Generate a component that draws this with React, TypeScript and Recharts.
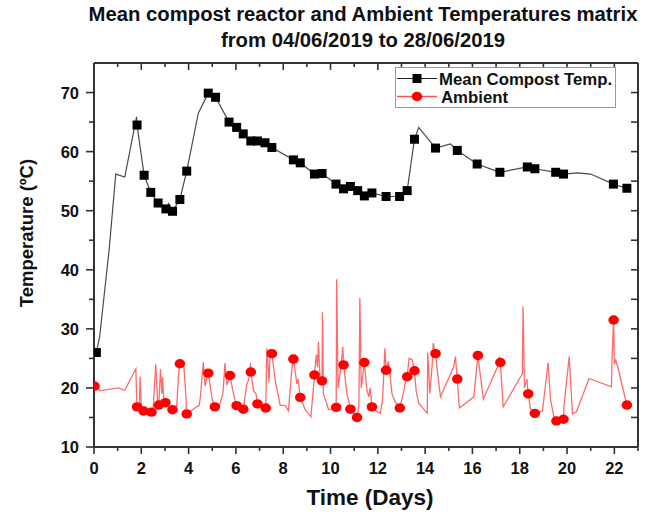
import React from 'react';
import { ComposedChart, Line, Scatter, XAxis, YAxis, Legend } from 'recharts';

// ---- Data ----
const compostDays = [0.1, 0.24, 0.64, 0.92, 1.3, 1.8, 1.82, 2.12, 2.4, 2.71, 3.04, 3.15, 3.32, 3.63, 3.92, 4.41, 4.83, 5.14, 5.71, 6.03, 6.31, 6.63, 6.91, 7.23, 7.52, 8.43, 8.72, 9.32, 9.64, 10.23, 10.55, 10.84, 11.15, 11.43, 11.75, 12.35, 12.92, 13.24, 13.55, 13.73, 14.44, 15.07, 15.36, 16.2, 17.16, 18.32, 18.64, 19.52, 19.85, 20.44, 21.0, 21.96, 22.53];
const compostTemps = [26.0, 28.7, 43.4, 56.2, 55.7, 65.9, 64.5, 56.0, 53.1, 51.3, 50.3, 51.2, 49.9, 51.9, 56.7, 66.5, 69.9, 69.2, 65.0, 64.1, 63.0, 61.8, 61.8, 61.5, 60.7, 58.6, 58.1, 56.2, 56.3, 54.5, 53.7, 54.1, 53.4, 52.5, 53.0, 52.4, 52.4, 53.4, 62.1, 64.1, 60.6, 61.3, 60.2, 57.9, 56.5, 57.4, 57.1, 56.5, 56.2, 56.4, 56.2, 54.5, 53.8];

const compostMarkerDays = [0.1, 1.82, 2.12, 2.4, 2.71, 3.04, 3.32, 3.63, 3.92, 4.83, 5.14, 5.71, 6.03, 6.31, 6.63, 6.91, 7.23, 7.52, 8.43, 8.72, 9.32, 9.64, 10.23, 10.55, 10.84, 11.15, 11.43, 11.75, 12.35, 12.92, 13.24, 13.55, 14.44, 15.36, 16.2, 17.16, 18.32, 18.64, 19.52, 19.85, 21.96, 22.53];
const compostMarkerTemps = [26.0, 64.5, 56.0, 53.1, 51.3, 50.3, 49.9, 51.9, 56.7, 69.9, 69.2, 65.0, 64.1, 63.0, 61.8, 61.8, 61.5, 60.7, 58.6, 58.1, 56.2, 56.3, 54.5, 53.7, 54.1, 53.4, 52.5, 53.0, 52.4, 52.4, 53.4, 62.1, 60.6, 60.2, 57.9, 56.5, 57.4, 57.1, 56.5, 56.2, 54.5, 53.8];

const ambientDays = [0.02, 0.08, 0.24, 1.02, 1.3, 1.77, 1.8, 1.82, 1.92, 1.95, 2.0, 2.1, 2.43, 2.5, 2.61, 2.7, 2.74, 2.81, 2.87, 2.9, 2.95, 3.02, 3.32, 3.5, 3.58, 3.63, 3.8, 3.88, 3.92, 4.34, 4.45, 4.5, 4.62, 4.7, 4.78, 4.83, 5.0, 5.11, 5.3, 5.45, 5.54, 5.62, 5.75, 5.9, 6.03, 6.31, 6.46, 6.55, 6.62, 6.63, 6.75, 6.85, 6.91, 7.1, 7.26, 7.31, 7.4, 7.45, 7.52, 7.66, 7.75, 7.87, 8.1, 8.22, 8.37, 8.43, 8.58, 8.63, 8.72, 8.93, 9.17, 9.3, 9.32, 9.4, 9.45, 9.49, 9.55, 9.64, 9.66, 9.7, 9.92, 10.1, 10.22, 10.24, 10.26, 10.32, 10.45, 10.52, 10.55, 10.7, 10.84, 11.12, 11.2, 11.24, 11.3, 11.43, 11.54, 11.62, 11.68, 11.75, 11.9, 12.1, 12.2, 12.3, 12.35, 12.45, 12.6, 12.75, 12.93, 13.1, 13.2, 13.24, 13.32, 13.45, 13.55, 13.62, 13.73, 14.09, 14.11, 14.2, 14.3, 14.34, 14.44, 14.5, 14.65, 15.2, 15.28, 15.36, 15.4, 15.45, 16.06, 16.23, 16.46, 17.05, 17.14, 17.18, 17.3, 18.11, 18.14, 18.2, 18.3, 18.36, 18.45, 18.64, 18.96, 19.2, 19.3, 19.45, 19.55, 19.85, 19.87, 20.09, 20.23, 20.4, 20.93, 21.88, 21.9, 21.97, 22.0, 22.06, 22.15, 22.53];
const ambientTemps = [20.3, 21.0, 19.5, 20.0, 19.6, 23.2, 18.5, 16.8, 17.0, 21.9, 16.8, 16.1, 15.9, 16.3, 24.0, 17.0, 17.1, 23.2, 19.0, 21.9, 18.0, 17.5, 16.3, 17.0, 22.5, 24.1, 23.6, 19.0, 15.6, 16.8, 17.0, 18.5, 24.4, 20.3, 22.0, 22.5, 18.0, 16.8, 17.0, 19.0, 24.2, 20.5, 22.1, 19.0, 17.0, 16.4, 20.6, 21.5, 24.2, 22.7, 19.5, 19.0, 17.3, 16.8, 16.6, 26.7, 21.0, 26.5, 25.8, 21.3, 19.5, 17.1, 17.0, 16.1, 23.4, 24.9, 20.7, 21.5, 18.4, 16.3, 15.1, 21.0, 22.2, 25.6, 23.5, 27.8, 22.0, 21.2, 32.8, 19.0, 16.3, 16.5, 16.6, 16.7, 38.4, 20.0, 24.0, 27.0, 23.9, 19.0, 16.4, 15.0, 17.0, 35.2, 20.0, 24.3, 19.6, 18.5, 20.0, 16.8, 16.2, 15.7, 18.0, 26.7, 23.0, 24.5, 19.0, 17.5, 16.6, 19.5, 22.0, 21.9, 25.0, 24.8, 22.9, 19.5, 17.4, 15.7, 26.0, 19.0, 24.0, 27.6, 25.8, 23.5, 18.5, 23.5, 25.3, 21.5, 19.0, 16.6, 18.5, 25.5, 18.1, 23.5, 25.3, 24.3, 16.8, 22.4, 33.8, 20.0, 21.5, 19.0, 16.5, 15.7, 16.1, 24.3, 18.0, 15.0, 14.4, 14.7, 17.0, 25.3, 15.6, 16.0, 21.6, 20.2, 25.0, 31.5, 24.0, 24.7, 23.5, 17.1];

const ambientMarkerDays = [0.02, 1.82, 2.1, 2.43, 2.74, 3.02, 3.32, 3.63, 3.92, 4.83, 5.11, 5.75, 6.03, 6.31, 6.63, 6.91, 7.26, 7.52, 8.43, 8.72, 9.32, 9.64, 10.24, 10.55, 10.84, 11.12, 11.43, 11.75, 12.35, 12.93, 13.24, 13.55, 14.44, 15.36, 16.23, 17.18, 18.36, 18.64, 19.55, 19.85, 21.97, 22.53];
const ambientMarkerTemps = [20.3, 16.8, 16.1, 15.9, 17.1, 17.5, 16.3, 24.1, 15.6, 22.5, 16.8, 22.1, 17.0, 16.4, 22.7, 17.3, 16.6, 25.8, 24.9, 18.4, 22.2, 21.2, 16.7, 23.9, 16.4, 15.0, 24.3, 16.8, 23.0, 16.6, 21.9, 22.9, 25.8, 21.5, 25.5, 24.3, 19.0, 15.7, 14.4, 14.7, 31.5, 17.1];

const xTicks = [0, 1, 2, 3, 4, 5, 6, 7, 8, 9, 10, 11, 12, 13, 14, 15, 16, 17, 18, 19, 20, 21, 22, 23];
const xLabelTicks = [0, 2, 4, 6, 8, 10, 12, 14, 16, 18, 20, 22];
const yTicks = [10, 15, 20, 25, 30, 35, 40, 45, 50, 55, 60, 65, 70];
const yLabelTicks = [10, 20, 30, 40, 50, 60, 70];

const titleLines = ['Mean compost reactor and Ambient Temperatures matrix', 'from 04/06/2019 to 28/06/2019'];
const seriesNames = ['Mean Compost Temp.', 'Ambient'];

const toPoints = (xs: number[], ys: number[]) => xs.map((t, i) => ({ t, v: ys[i] }));

const compostLine = toPoints(compostDays, compostTemps);
const compostMarkers = toPoints(compostMarkerDays, compostMarkerTemps);
const ambientLine = toPoints(ambientDays, ambientTemps);
const ambientMarkers = toPoints(ambientMarkerDays, ambientMarkerTemps);

const FONT = '"Liberation Sans", Arial, Helvetica, sans-serif';
const AXIS_COLOR = '#333';

const BottomTick = (props: any) => {
  const { x, y, payload } = props;
  const major = xLabelTicks.includes(payload.value);
  return (
    <g>
      <line x1={x} x2={x} y1={y} y2={y + (major ? 7 : 4)} stroke={AXIS_COLOR} strokeWidth={1.6} />
      {major && (
        <text x={x} y={y + 27} textAnchor="middle" fontFamily={FONT} fontWeight="bold" fontSize={16.5} fill="#111">
          {payload.value}
        </text>
      )}
    </g>
  );
};

const TopTick = (props: any) => {
  const { x, y, payload } = props;
  const major = xLabelTicks.includes(payload.value);
  return <line x1={x} x2={x} y1={y} y2={y + (major ? 7 : 4)} stroke={AXIS_COLOR} strokeWidth={1.6} />;
};

const LeftTick = (props: any) => {
  const { x, y, payload } = props;
  const major = yLabelTicks.includes(payload.value);
  return (
    <g>
      <line x1={x - (major ? 8 : 5)} x2={x} y1={y} y2={y} stroke={AXIS_COLOR} strokeWidth={1.6} />
      {major && (
        <text x={x - 15} y={y + 6} textAnchor="end" fontFamily={FONT} fontWeight="bold" fontSize={16.5} fill="#111">
          {payload.value}
        </text>
      )}
    </g>
  );
};

const RightTick = (props: any) => {
  const { x, y } = props;
  return <line x1={x - 7} x2={x} y1={y} y2={y} stroke={AXIS_COLOR} strokeWidth={1.6} />;
};

const SquareMarker = (props: any) => {
  const { cx, cy } = props;
  if (cx == null || cy == null) return null;
  return <rect x={cx - 4.5} y={cy - 4.5} width={9} height={9} fill="#000" />;
};

const CircleMarker = (props: any) => {
  const { cx, cy } = props;
  if (cx == null || cy == null) return null;
  return <ellipse cx={cx} cy={cy} rx={5.3} ry={4.7} fill="#ff0000" />;
};

const LegendBox = () => (
  <div style={{ width: 221, height: 41, border: '1.5px solid #999', background: '#fff', boxSizing: 'border-box' }}>
    <svg width={218} height={38} style={{ display: 'block' }}>
      <line x1={1} x2={41} y1={10.5} y2={10.5} stroke="#222" strokeWidth={1.2} />
      <rect x={16.5} y={6} width={9} height={9} fill="#000" />
      <text x={43} y={16.5} fontFamily={FONT} fontWeight="bold" fontSize={16.8} fill="#111">{seriesNames[0]}</text>
      <line x1={1} x2={41} y1={28.5} y2={28.5} stroke="#ff5050" strokeWidth={1.3} />
      <ellipse cx={21} cy={28.5} rx={5.3} ry={4.7} fill="#ff0000" />
      <text x={45} y={34.5} fontFamily={FONT} fontWeight="bold" fontSize={16.8} fill="#111">{seriesNames[1]}</text>
    </svg>
  </div>
);

export default function App() {
  return (
    <div style={{ position: 'absolute', left: 0, top: 0, width: 649, height: 512, background: '#fff' }}>
      <div
        style={{
          position: 'absolute', left: 63, top: 1, width: 600, textAlign: 'center',
          fontFamily: FONT, fontWeight: 'bold', fontSize: 20.3, lineHeight: '26px', color: '#111',
          whiteSpace: 'nowrap',
        }}
      >
        <div>{titleLines[0]}</div>
        <div>{titleLines[1]}</div>
      </div>
      <ComposedChart width={649} height={512} margin={{ top: 62, right: 10, bottom: 35, left: 0 }}>
        <XAxis
          xAxisId={0}
          dataKey="t"
          type="number"
          domain={[0, 23]}
          allowDataOverflow
          ticks={xTicks}
          interval={0}
          height={30}
          tickSize={0}
          tickMargin={0}
          tick={<BottomTick />}
          tickLine={false}
          axisLine={{ stroke: AXIS_COLOR, strokeWidth: 2 }}
        />
        <XAxis
          xAxisId="top"
          orientation="top"
          dataKey="t"
          type="number"
          domain={[0, 23]}
          allowDataOverflow
          ticks={xTicks}
          interval={0}
          height={1}
          tickSize={0}
          tickMargin={0}
          tick={<TopTick />}
          tickLine={false}
          axisLine={{ stroke: AXIS_COLOR, strokeWidth: 2 }}
        />
        <YAxis
          yAxisId={0}
          type="number"
          domain={[10, 75]}
          allowDataOverflow
          ticks={yTicks}
          interval={0}
          width={94}
          tickSize={0}
          tickMargin={0}
          tick={<LeftTick />}
          tickLine={false}
          axisLine={{ stroke: AXIS_COLOR, strokeWidth: 2 }}
        />
        <YAxis
          yAxisId="right"
          orientation="right"
          type="number"
          domain={[10, 75]}
          allowDataOverflow
          ticks={yTicks}
          interval={0}
          width={1}
          tickSize={0}
          tickMargin={0}
          tick={<RightTick />}
          tickLine={false}
          axisLine={{ stroke: AXIS_COLOR, strokeWidth: 2 }}
        />
        <Legend
          layout="vertical"
          align="center"
          verticalAlign="middle"
          wrapperStyle={{ position: 'absolute', left: 395, top: 67, width: 221, height: 41 }}
          content={() => <LegendBox />}
        />
        <Line
          data={ambientLine}
          dataKey="v"
          name={seriesNames[1]}
          type="linear"
          stroke="#ff5050"
          strokeWidth={1.3}
          strokeOpacity={0.85}
          dot={false}
          activeDot={false}
          isAnimationActive={false}
        />
        <Scatter data={ambientMarkers} dataKey="v" shape={<CircleMarker />} isAnimationActive={false} />
        <Line
          data={compostLine}
          dataKey="v"
          name={seriesNames[0]}
          type="linear"
          stroke="#4a4a4a"
          strokeWidth={1.2}
          dot={false}
          activeDot={false}
          isAnimationActive={false}
        />
        <Scatter data={compostMarkers} dataKey="v" shape={<SquareMarker />} isAnimationActive={false} />
      </ComposedChart>
      <div
        style={{
          position: 'absolute', left: 270, top: 484, width: 200, textAlign: 'center',
          fontFamily: FONT, fontWeight: 'bold', fontSize: 22.5, lineHeight: '28px', color: '#111',
        }}
      >
        Time (Days)
      </div>
      <div
        style={{
          position: 'absolute', left: 27 - 100, top: 233 - 12, width: 200, height: 24, textAlign: 'center',
          transform: 'rotate(-90deg)', transformOrigin: '100px 12px',
          fontFamily: FONT, fontWeight: 'bold', fontSize: 18.5, lineHeight: '24px', color: '#111',
        }}
      >
        Temperature (ºC)
      </div>
    </div>
  );
}
